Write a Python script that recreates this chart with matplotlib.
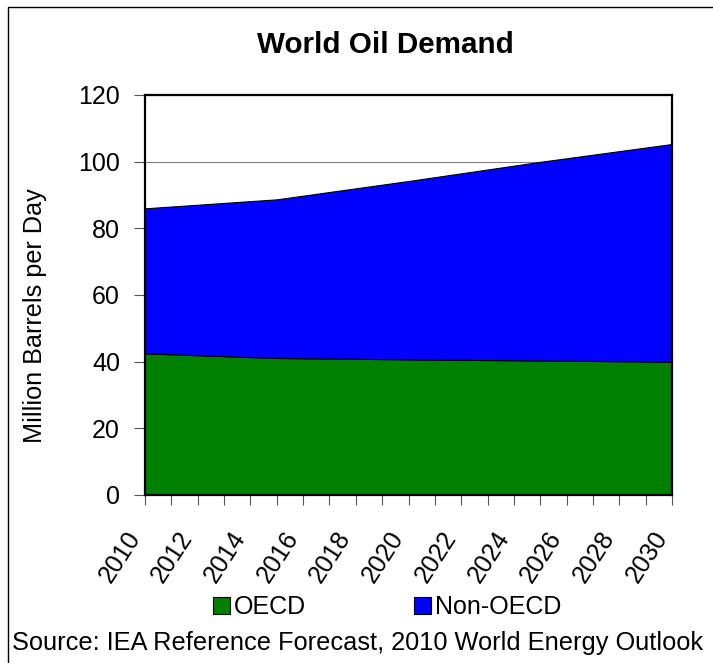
import matplotlib
matplotlib.use("Agg")
import matplotlib.pyplot as plt
from matplotlib.lines import Line2D
from matplotlib.patches import Patch

plt.rcParams['font.family'] = ['Liberation Sans', 'DejaVu Sans']

years = [2010, 2015, 2020, 2025, 2030]
oecd = [42.5, 41.1, 40.7, 40.35, 40.0]
non_oecd = [43.5, 47.6, 53.5, 59.6, 65.3]
series_names = ['OECD', 'Non-OECD']
series_colors = ['#008000', '#0000FF']
tick_years = list(range(2010, 2031))
y_ticks = [0, 20, 40, 60, 80, 100, 120]

W, H = 713, 663
fig = plt.figure(figsize=(W / 100, H / 100), dpi=100)
ax = fig.add_axes([145 / W, 1 - 495 / H, 527 / W, 400 / H])

ax.stackplot(years, oecd, non_oecd, colors=series_colors,
             labels=series_names, edgecolor='black', linewidth=0.8, zorder=2)

ax.set_xlim(2010, 2030)
ax.set_ylim(0, 120)
ax.set_yticks(y_ticks)
ax.set_xticks(tick_years)
ax.set_xticklabels([str(y) if y % 2 == 0 else '' for y in tick_years],
                   rotation=57, ha='right', va='top', fontsize=18)
ax.tick_params(axis='x', length=7, width=0.8, color='#555555', pad=16)
ax.tick_params(axis='y', length=8, width=0.8, color='#555555', pad=10, labelsize=18)
ax.yaxis.grid(True, color='#808080', linewidth=0.8, zorder=0)
ax.set_axisbelow(True)
for s in ax.spines.values():
    s.set_color('black')
    s.set_linewidth(1.6)
    s.set_zorder(5)

fig.text(385 / W, 1 - 45 / H, 'World Oil Demand', ha='center', va='center',
         fontsize=21.3, fontweight='bold')
fig.text(35 / W, 1 - 316 / H, 'Million Barrels per Day', rotation=90,
         ha='center', va='center', fontsize=18.2)

handles = [Patch(facecolor=c, edgecolor='black', linewidth=0.8) for c in series_colors]
fig.legend(handles, series_names, loc='center', bbox_to_anchor=(387 / W, 1 - 607 / H),
           ncol=2, frameon=False, fontsize=18, handlelength=0.7, handleheight=0.7,
           handletextpad=0.15, columnspacing=4.3)

fig.text(12 / W, 1 - 643 / H, 'Source: IEA Reference Forecast, 2010 World Energy Outlook',
         ha='left', va='center', fontsize=18.3)

x0 = 8 / W
y0 = 1 - 7 / H
fig.add_artist(Line2D([x0, x0, 1.01], [-0.01, y0, y0], transform=fig.transFigure,
                      color='black', linewidth=1.0))

fig.savefig('out.png', dpi=100)
